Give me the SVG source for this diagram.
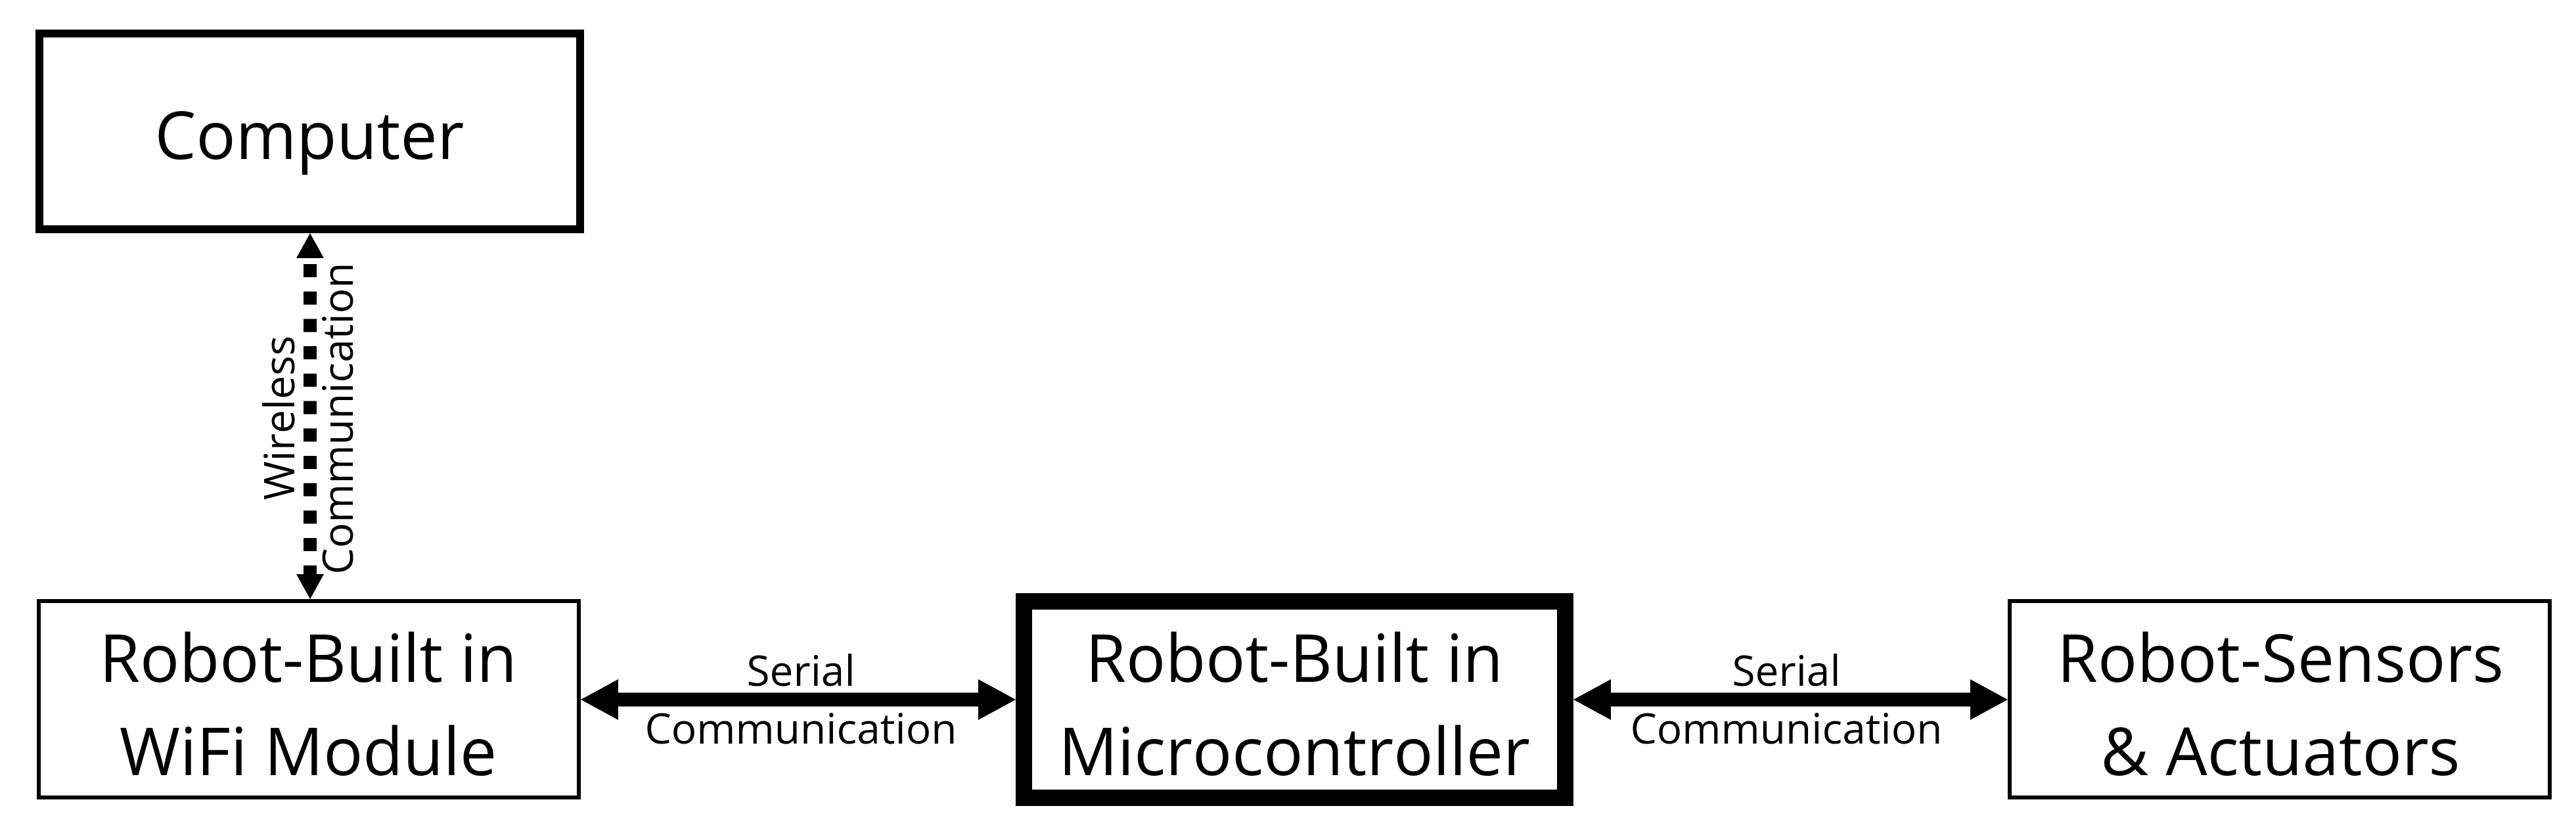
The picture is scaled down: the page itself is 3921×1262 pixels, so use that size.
<svg xmlns="http://www.w3.org/2000/svg" width="3921" height="1262" viewBox="0 0 3921 1262">
<style>
.box{fill:#fff;stroke:#000}
.big{font-family:"Open Sans","Noto Sans","Liberation Sans",sans-serif;font-size:100px;fill:#000;text-anchor:middle}
.lbl{font-family:"Open Sans","Noto Sans","Liberation Sans",sans-serif;font-size:64px;fill:#000;text-anchor:middle}
.serial{stroke:#000;stroke-width:21;fill:none;marker-start:url(#sh);marker-end:url(#sh)}
.wireless{stroke:#000;stroke-width:20;fill:none;stroke-dasharray:20 21.7;stroke-dashoffset:32.7;marker-start:url(#wh);marker-end:url(#wh)}
</style>
<defs>
<marker id="sh" viewBox="0 0 57 62" refX="0" refY="31" markerWidth="57" markerHeight="62" markerUnits="userSpaceOnUse" orient="auto-start-reverse">
<path d="M0,0 L57,31 L0,62 z" fill="#000" stroke="none"/>
</marker>
<marker id="wh" viewBox="0 0 38 42" refX="0" refY="21" markerWidth="38" markerHeight="42" markerUnits="userSpaceOnUse" orient="auto-start-reverse">
<path d="M0,0 L38,21 L0,42 z" fill="#000" stroke="none"/>
</marker>
</defs>
<rect width="3921" height="1262" fill="#fff"/>
<g id="computer">
<rect class="box" x="60" y="51" width="823" height="298" stroke-width="12"/>
<text class="big" x="471" y="242">Computer</text>
</g>
<g id="wifi">
<rect class="box" x="59" y="915" width="822" height="299" stroke-width="6"/>
<text class="big" x="469" y="1038">Robot-Built in</text>
<text class="big" x="469" y="1180">WiFi Module</text>
</g>
<g id="micro">
<rect class="box" x="1558.5" y="915.5" width="824" height="299" stroke-width="25"/>
<text class="big" x="1970" y="1038">Robot-Built in</text>
<text class="big" x="1970" y="1180">Microcontroller</text>
</g>
<g id="sensors">
<rect class="box" x="3059" y="915" width="822" height="299" stroke-width="6"/>
<text class="big" x="3471" y="1038">Robot-Sensors</text>
<text class="big" x="3471" y="1180">&amp; Actuators</text>
</g>
<g id="connectors">
<line class="wireless" x1="472" y1="393" x2="472" y2="874"/>
<text class="lbl" transform="translate(448,636) rotate(-90)">Wireless</text>
<text class="lbl" transform="translate(537,637) rotate(-90)">Communication</text>
<line class="serial" x1="941" y1="1065" x2="1489" y2="1065"/>
<text class="lbl" x="1219" y="1044">Serial</text>
<text class="lbl" x="1219" y="1132">Communication</text>
<line class="serial" x1="2452" y1="1065" x2="2999" y2="1065"/>
<text class="lbl" x="2719" y="1044">Serial</text>
<text class="lbl" x="2719" y="1132">Communication</text>
</g>
</svg>
